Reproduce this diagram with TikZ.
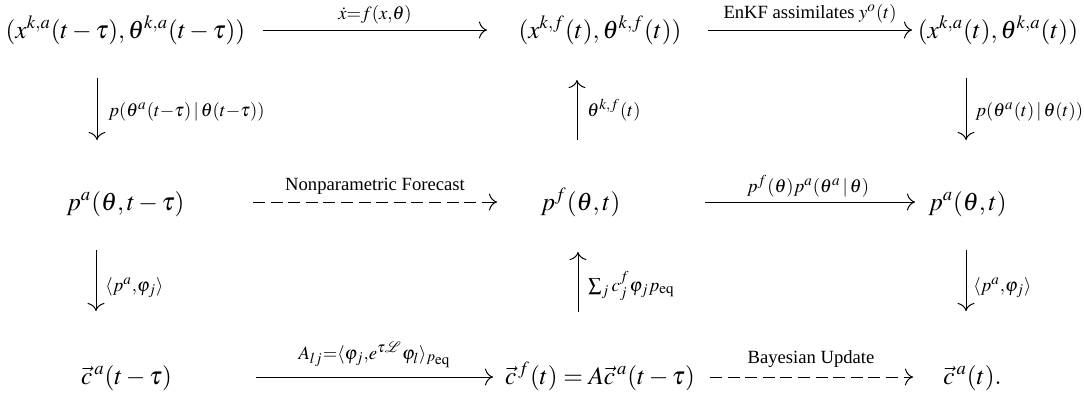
\documentclass[tikz,border=0pt]{standalone}
\usepackage{amsmath}
\usepackage{mathptmx}
\usepackage{fontspec}
\setmainfont{Liberation Serif}
\usetikzlibrary{arrows.meta}
\begin{document}
\begin{tikzpicture}[x=0.5pt,y=-0.5pt,
  main/.style={font=\fontsize{12.6}{15}\selectfont, inner sep=0pt, anchor=base},
  lab/.style={font=\fontsize{12.6}{15}\selectfont, inner sep=0pt, anchor=base},
  vlab/.style={font=\fontsize{12.6}{15}\selectfont, inner sep=0pt, anchor=base west},
  arr/.style={-{To[scale=1.5]}, line width=0.5pt},
  darr/.style={arr, dash pattern=on 6pt off 2.8pt}]
\useasboundingbox (0,0) rectangle (1084,397);
% main nodes
\node[main] (n11) at (125.5,38) {$(x^{k,a}(t-\tau),\theta^{k,a}(t-\tau))$};
\node[main] (n12) at (600,38) {$(x^{k,f}(t),\theta^{k,f}(t))$};
\node[main] (n13) at (998,38) {$(x^{k,a}(t),\theta^{k,a}(t))$};
\node[main] (n21) at (125.5,210) {$p^a(\theta,t-\tau)$};
\node[main] (n22) at (580.5,210) {$p^f(\theta,t)$};
\node[main] (n23) at (967.5,210) {$p^a(\theta,t)$};
\node[main] (n31) at (126.5,384) {$\vec c^{\,a}(t-\tau)$};
\node[main] (n32) at (600,384) {$\vec c^{\,f}(t)=A\vec c^{\,a}(t-\tau)$};
\node[main] (n33) at (972.5,384) {$\vec c^{\,a}(t).$};
% coordinates for arrow ends
\coordinate (h1s) at (263,30);  \coordinate (h1e) at (487,30);
\coordinate (h2s) at (708,30);  \coordinate (h2e) at (912,30);
\coordinate (h3s) at (253,202); \coordinate (h3e) at (497,202);
\coordinate (h4s) at (705,202); \coordinate (h4e) at (915,202);
\coordinate (h5s) at (256,377); \coordinate (h5e) at (493,377);
\coordinate (h6s) at (710,377); \coordinate (h6e) at (913,377);
\coordinate (v1t) at (97,78);   \coordinate (v1b) at (97,140);
\coordinate (v2t) at (577,80);  \coordinate (v2b) at (577,140);
\coordinate (v3t) at (966,78);  \coordinate (v3b) at (966,140);
\coordinate (v4t) at (96,250);  \coordinate (v4b) at (96,311);
\coordinate (v5t) at (578,252); \coordinate (v5b) at (578,312);
\coordinate (v6t) at (966,250); \coordinate (v6b) at (966,311);
% horizontal arrows
\draw[arr] (h1s) -- (h1e);
\draw[arr] (h2s) -- (h2e);
\draw[darr] (h3s) -- (h3e);
\draw[arr] (h4s) -- (h4e);
\draw[arr] (h5s) -- (h5e);
\draw[darr] (h6s) -- (h6e);
% vertical arrows
\draw[arr] (v1t) -- (v1b);
\draw[arr] (v2b) -- (v2t);
\draw[arr] (v3t) -- (v3b);
\draw[arr] (v4t) -- (v4b);
\draw[arr] (v5b) -- (v5t);
\draw[arr] (v6t) -- (v6b);
% horizontal labels
\node[lab] (l1) at (375,19) {$\scriptstyle \dot x=f(x,\theta)$};
\node[lab] (l2) at (810,18) {$\scriptstyle \text{EnKF assimilates } y^o(t)$};
\node[lab] (l3) at (375,190) {$\scriptstyle \text{Nonparametric Forecast}$};
\node[lab] (l4) at (808,192) {$\scriptstyle p^f(\theta)p^a(\theta^a\,|\,\theta)$};
\node[lab] (l5) at (375,359) {$\scriptstyle A_{lj}=\langle\varphi_j,e^{\tau\mathcal{L}}\varphi_l\rangle_{p_{\mathrm{eq}}}$};
\node[lab] (l6) at (811,363) {$\scriptstyle \text{Bayesian Update}$};
% vertical labels
\node[vlab] (m1) at (108,116) {$\scriptstyle p(\theta^a(t-\tau)\,|\,\theta(t-\tau))$};
\node[vlab] (m2) at (587,116) {$\scriptstyle \theta^{k,f}(t)$};
\node[vlab] (m3) at (975,116) {$\scriptstyle p(\theta^a(t)\,|\,\theta(t))$};
\node[vlab] (m4) at (105,291) {$\scriptstyle \langle p^a,\varphi_j\rangle$};
\node[vlab] (m5) at (588,291) {$\scriptstyle \sum_j c_j^f\varphi_j p_{\mathrm{eq}}$};
\node[vlab] (m6) at (973,291) {$\scriptstyle \langle p^a,\varphi_j\rangle$};
\end{tikzpicture}
\end{document}
